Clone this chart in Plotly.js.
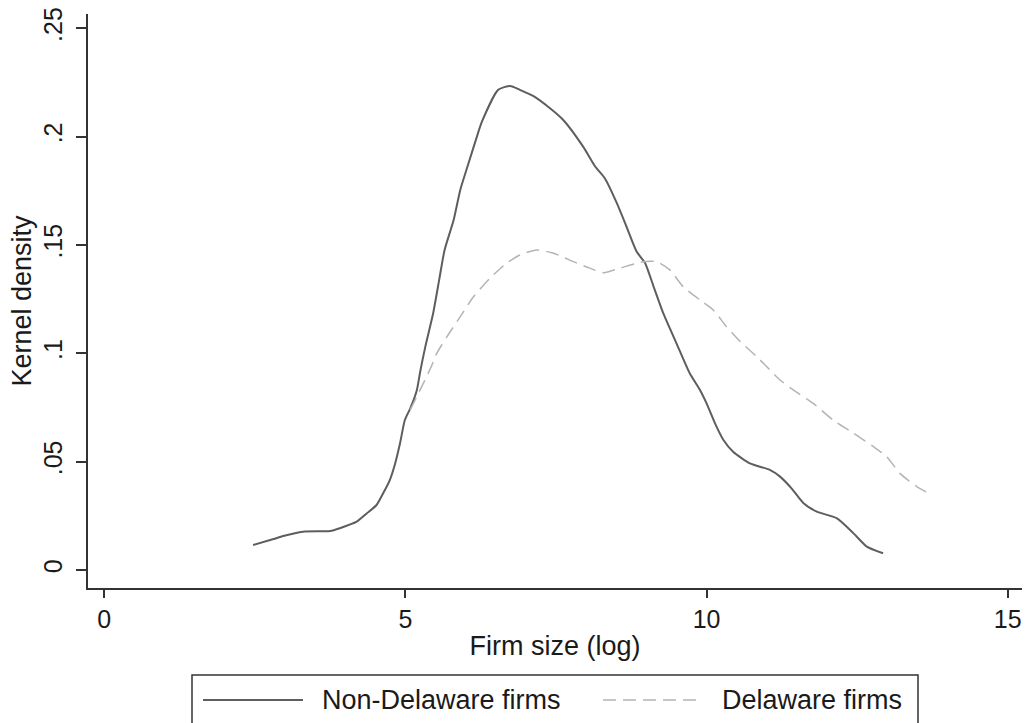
<!DOCTYPE html>
<html>
<head>
<meta charset="utf-8">
<script src="https://cdn.plot.ly/plotly-3.0.1.min.js"></script>
<style>
html,body{margin:0;padding:0;background:#fff;}
#chart{width:1027px;height:723px;}
</style>
</head>
<body>
<div id="chart"></div>
<script>
// Non-Delaware firms (solid)
const nonDelX = [2.47,2.81,2.97,3.30,3.75,3.91,4.19,4.36,4.52,4.63,4.74,4.83,4.91,4.99,5.08,5.19,5.24,5.33,5.46,5.56,5.65,5.80,5.91,6.03,6.16,6.27,6.54,6.74,6.90,7.12,7.40,7.62,7.95,8.15,8.31,8.51,8.67,8.84,8.98,9.12,9.28,9.50,9.72,9.89,10.00,10.14,10.28,10.44,10.72,11.05,11.22,11.41,11.61,11.83,12.16,12.44,12.66,12.93];
const nonDelY = [0.0115,0.0143,0.0157,0.0177,0.0180,0.0193,0.0223,0.0262,0.0300,0.0354,0.0415,0.0493,0.0585,0.0692,0.0746,0.0831,0.0908,0.1031,0.1185,0.1339,0.1477,0.1615,0.1754,0.1862,0.1977,0.2069,0.2216,0.2234,0.2216,0.2188,0.2131,0.2077,0.1954,0.1862,0.1808,0.1693,0.1585,0.1469,0.1416,0.1308,0.1185,0.1046,0.0908,0.0831,0.0769,0.0677,0.0600,0.0546,0.0492,0.0462,0.0431,0.0377,0.0308,0.0269,0.0239,0.0169,0.0108,0.0077];
// Delaware firms (dashed)
const delX = [5.08,5.27,5.35,5.44,5.52,5.69,5.91,6.13,6.40,6.68,6.90,7.18,7.46,7.79,8.06,8.29,8.56,8.95,9.17,9.39,9.61,9.89,10.11,10.33,10.56,10.83,11.00,11.22,11.44,11.77,12.10,12.44,12.77,12.99,13.21,13.49,13.74];
const delY = [0.0739,0.0846,0.0892,0.0946,0.1000,0.1077,0.1169,0.1261,0.1346,0.1416,0.1454,0.1477,0.1462,0.1423,0.1393,0.1372,0.1393,0.1423,0.1423,0.1385,0.1308,0.1246,0.1200,0.1123,0.1054,0.0985,0.0938,0.0877,0.0831,0.0769,0.0692,0.0631,0.0569,0.0523,0.0446,0.0385,0.0346];

const xTickVals = [0,5,10,15];
const xTickText = ["0","5","10","15"];
const yTickVals = [0,0.05,0.1,0.15,0.2,0.25];
const yTickText = ["0",".05",".1",".15",".2",".25"];
const seriesNames = ["Non-Delaware firms","Delaware firms"];
const xTitle = "Firm size (log)";
const yTitle = "Kernel density";

const FONT = "Liberation Sans, Arial, sans-serif";
const TXT = "#1a1a1a";
const solidColor = "#5e5e5e";
const dashColor = "#b4b4b4";
const dashStyle = "13px,7px";

const traces = [
  {x: nonDelX, y: nonDelY, type: "scatter", mode: "lines", name: seriesNames[0],
   line: {color: solidColor, width: 2, shape: "spline", smoothing: 0.6}, showlegend: false, hoverinfo: "skip"},
  {x: delX, y: delY, type: "scatter", mode: "lines", name: seriesNames[1],
   line: {color: dashColor, width: 1.5, dash: dashStyle, shape: "spline", smoothing: 0.6}, showlegend: false, hoverinfo: "skip"}
];

// legend geometry in paper coords (plot area: x 88..1022, y 14..588)
const px = v => (v - 88) / 934;
const py = v => (588 - v) / 574;
const legY = py(700);

const layout = {
  width: 1027, height: 723,
  margin: {l: 88, r: 5, t: 14, b: 135},
  paper_bgcolor: "#fff", plot_bgcolor: "#fff",
  font: {family: FONT, color: TXT},
  showlegend: false,
  xaxis: {
    range: [-0.271, 15.237], tickvals: xTickVals, ticktext: xTickText,
    showgrid: false, zeroline: false, showline: true, linecolor: "#333", linewidth: 2,
    ticks: "outside", ticklen: 8, tickwidth: 2, tickcolor: "#333",
    tickfont: {size: 25, family: FONT, color: TXT},
    title: {text: xTitle, font: {size: 27, family: FONT, color: TXT}, standoff: 4},
    automargin: false, fixedrange: true
  },
  yaxis: {
    range: [-0.00831, 0.2566], tickvals: yTickVals, ticktext: yTickText,
    showgrid: false, zeroline: false, showline: true, linecolor: "#333", linewidth: 2,
    ticks: "outside", ticklen: 10, tickwidth: 2, tickcolor: "#333",
    tickangle: -90, ticklabelstandoff: 4,
    tickfont: {size: 25, family: FONT, color: TXT},
    title: {text: yTitle, font: {size: 27, family: FONT, color: TXT}, standoff: 0},
    automargin: false, fixedrange: true
  },
  shapes: [
    {type: "rect", xref: "paper", yref: "paper", x0: px(192), x1: px(918), y0: py(675), y1: py(726),
     line: {color: "#333", width: 1.5}, fillcolor: "rgba(0,0,0,0)"},
    {type: "line", xref: "paper", yref: "paper", x0: px(203), x1: px(303), y0: legY, y1: legY,
     line: {color: solidColor, width: 2}},
    {type: "line", xref: "paper", yref: "paper", x0: px(603), x1: px(703), y0: legY, y1: legY,
     line: {color: dashColor, width: 1.5, dash: dashStyle}}
  ],
  annotations: [
    {xref: "paper", yref: "paper", x: px(320), y: legY, xanchor: "left", yanchor: "middle",
     text: seriesNames[0], showarrow: false, font: {size: 27, family: FONT, color: TXT}},
    {xref: "paper", yref: "paper", x: px(720), y: legY, xanchor: "left", yanchor: "middle",
     text: seriesNames[1], showarrow: false, font: {size: 27, family: FONT, color: TXT}}
  ]
};

Plotly.newPlot("chart", traces, layout, {staticPlot: true, displayModeBar: false});
</script>
</body>
</html>
